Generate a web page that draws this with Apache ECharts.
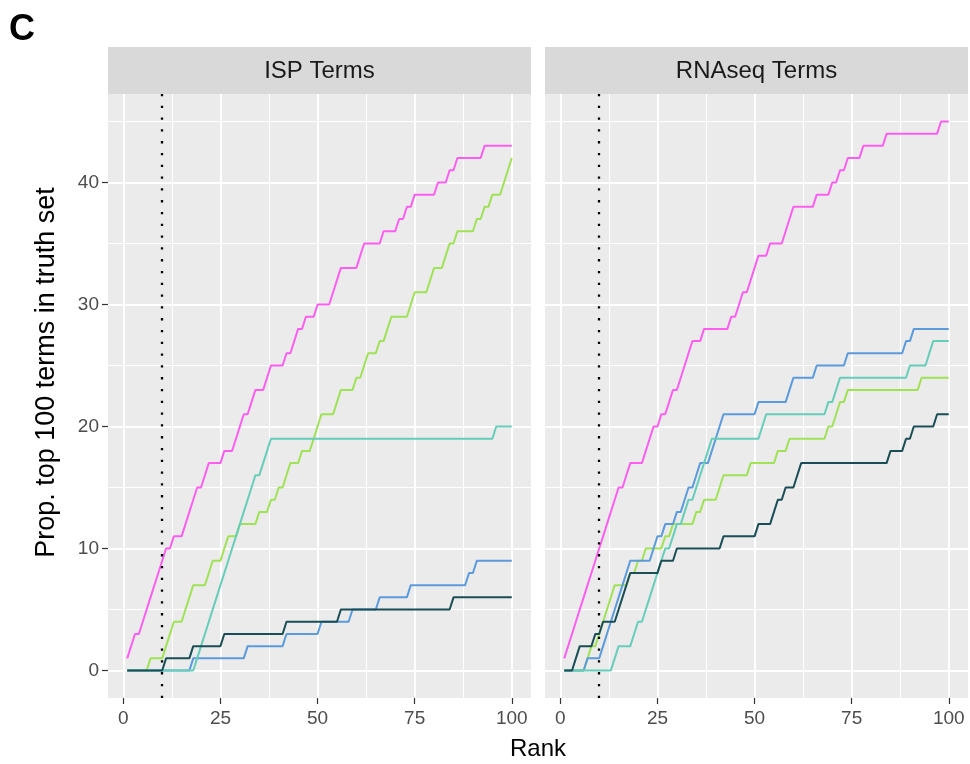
<!DOCTYPE html>
<html>
<head>
<meta charset="utf-8">
<script src="https://cdn.jsdelivr.net/npm/echarts@6/dist/echarts.min.js"></script>
<style>
  html, body { margin: 0; padding: 0; background: #fff; }
  #chart { width: 970px; height: 764px; }
</style>
</head>
<body>
<div id="chart"></div>
<script>
// ---------------- data ----------------
const ranks = [
  1,2,3,4,5,6,7,8,9,10,11,12,13,14,15,16,17,18,19,20,
  21,22,23,24,25,26,27,28,29,30,31,32,33,34,35,36,37,38,39,40,
  41,42,43,44,45,46,47,48,49,50,51,52,53,54,55,56,57,58,59,60,
  61,62,63,64,65,66,67,68,69,70,71,72,73,74,75,76,77,78,79,80,
  81,82,83,84,85,86,87,88,89,90,91,92,93,94,95,96,97,98,99,100
];
const panelTitles = ['ISP Terms', 'RNAseq Terms'];
const xTicks = [0, 25, 50, 75, 100];
const xMinorTicks = [12.5, 37.5, 62.5, 87.5];
const yTicks = [0, 10, 20, 30, 40];
const yMinorTicks = [5, 15, 25, 35, 45];
const CUTOFF = 10;
const yTitle = 'Prop. top 100 terms in truth set';
const xTitle = 'Rank';
const panelLabel = 'C';

// ISP Terms panel
const ispPink = [
  1,2,3,3,4,5,6,7,8,9,
  10,10,11,11,11,12,13,14,15,15,
  16,17,17,17,17,18,18,18,19,20,
  21,21,22,23,23,23,24,25,25,25,
  25,26,26,27,28,28,29,29,29,30,
  30,30,30,31,32,33,33,33,33,33,
  34,35,35,35,35,35,36,36,36,36,
  37,37,38,38,39,39,39,39,39,39,
  40,40,40,41,41,42,42,42,42,42,
  42,42,43,43,43,43,43,43,43,43
];
const ispGreen = [
  0,0,0,0,0,0,1,1,1,1,
  2,3,4,4,4,5,6,7,7,7,
  7,8,9,9,9,10,11,11,11,12,
  12,12,12,12,13,13,13,14,14,15,
  15,16,17,17,17,18,18,18,19,20,
  21,21,21,21,22,23,23,23,23,24,
  24,25,26,26,26,27,27,28,29,29,
  29,29,29,30,31,31,31,31,32,33,
  33,33,34,35,35,36,36,36,36,36,
  37,37,38,38,39,39,39,40,41,42
];
const ispBlue = [
  0,0,0,0,0,0,0,0,0,0,
  0,0,0,0,0,0,0,1,1,1,
  1,1,1,1,1,1,1,1,1,1,
  1,2,2,2,2,2,2,2,2,2,
  2,3,3,3,3,3,3,3,3,3,
  4,4,4,4,4,4,4,4,5,5,
  5,5,5,5,5,6,6,6,6,6,
  6,6,6,7,7,7,7,7,7,7,
  7,7,7,7,7,7,7,7,8,8,
  9,9,9,9,9,9,9,9,9,9
];
const ispTeal = [
  0,0,0,0,0,0,0,0,0,0,
  0,0,0,0,0,0,0,0,1,2,
  3,4,5,6,7,8,9,10,11,12,
  13,14,15,16,16,17,18,19,19,19,
  19,19,19,19,19,19,19,19,19,19,
  19,19,19,19,19,19,19,19,19,19,
  19,19,19,19,19,19,19,19,19,19,
  19,19,19,19,19,19,19,19,19,19,
  19,19,19,19,19,19,19,19,19,19,
  19,19,19,19,19,20,20,20,20,20
];
const ispDark = [
  0,0,0,0,0,0,0,0,0,0,
  1,1,1,1,1,1,1,2,2,2,
  2,2,2,2,2,3,3,3,3,3,
  3,3,3,3,3,3,3,3,3,3,
  3,4,4,4,4,4,4,4,4,4,
  4,4,4,4,4,5,5,5,5,5,
  5,5,5,5,5,5,5,5,5,5,
  5,5,5,5,5,5,5,5,5,5,
  5,5,5,5,6,6,6,6,6,6,
  6,6,6,6,6,6,6,6,6,6
];

// RNAseq Terms panel
const rnaPink = [
  1,2,3,4,5,6,7,8,9,10,
  11,12,13,14,15,15,16,17,17,17,
  17,18,19,20,20,21,21,22,23,23,
  24,25,26,27,27,27,28,28,28,28,
  28,28,28,29,29,30,31,31,32,33,
  34,34,34,35,35,35,35,36,37,38,
  38,38,38,38,38,39,39,39,39,40,
  40,41,41,42,42,42,42,43,43,43,
  43,43,43,44,44,44,44,44,44,44,
  44,44,44,44,44,44,44,45,45,45
];
const rnaGreen = [
  0,0,0,0,0,0,1,2,2,3,
  4,5,6,7,7,7,7,8,8,9,
  9,10,10,10,10,10,11,11,12,12,
  12,12,12,12,13,13,14,14,14,14,
  15,16,16,16,16,16,16,16,17,17,
  17,17,17,17,17,18,18,18,19,19,
  19,19,19,19,19,19,19,19,20,20,
  21,22,22,23,23,23,23,23,23,23,
  23,23,23,23,23,23,23,23,23,23,
  23,23,24,24,24,24,24,24,24,24
];
const rnaBlue = [
  0,0,0,0,0,0,1,1,1,1,
  2,3,4,5,6,7,8,9,9,9,
  9,9,9,10,11,11,12,12,12,13,
  13,14,15,15,16,17,17,17,18,19,
  20,21,21,21,21,21,21,21,21,21,
  22,22,22,22,22,22,22,22,23,24,
  24,24,24,24,24,25,25,25,25,25,
  25,25,25,26,26,26,26,26,26,26,
  26,26,26,26,26,26,26,26,27,27,
  28,28,28,28,28,28,28,28,28,28
];
const rnaTeal = [
  0,0,0,0,0,0,0,0,0,0,
  0,0,0,1,2,2,2,2,3,4,
  4,5,6,7,8,9,10,10,11,12,
  12,13,14,14,15,16,17,18,19,19,
  19,19,19,19,19,19,19,19,19,19,
  19,20,21,21,21,21,21,21,21,21,
  21,21,21,21,21,21,21,21,22,22,
  23,24,24,24,24,24,24,24,24,24,
  24,24,24,24,24,24,24,24,24,25,
  25,25,25,25,26,27,27,27,27,27
];
const rnaDark = [
  0,0,0,1,2,2,2,2,3,3,
  4,4,4,4,5,6,7,8,8,8,
  8,8,8,8,8,9,9,9,9,10,
  10,10,10,10,10,10,10,10,10,10,
  10,11,11,11,11,11,11,11,11,11,
  12,12,12,12,13,14,14,15,15,15,
  16,17,17,17,17,17,17,17,17,17,
  17,17,17,17,17,17,17,17,17,17,
  17,17,17,17,18,18,18,18,19,19,
  20,20,20,20,20,20,21,21,21,21
];

const seriesColors = {
  pink: '#FC5FEF',
  green: '#A0E257',
  blue: '#5B9BDC',
  teal: '#66CDB9',
  dark: '#1A4D56'
};
const panels = [
  [['pink', ispPink], ['green', ispGreen], ['blue', ispBlue], ['teal', ispTeal], ['dark', ispDark]],
  [['pink', rnaPink], ['green', rnaGreen], ['blue', rnaBlue], ['teal', rnaTeal], ['dark', rnaDark]]
];

// ---------------- layout ----------------
const FONT = '"Liberation Sans", Arial, Helvetica, sans-serif';
const GRID_LEFT = [108, 545];
const STRIP_TOP = 47;
const GRID_TOP = 94;
const GRID_W = 423;
const GRID_H = 604;
const X_MIN = -3.95, X_MAX = 104.95;
const Y_MIN = -2.25, Y_MAX = 47.25;

const grids = [], xAxes = [], yAxes = [], series = [], graphics = [];

panels.forEach((panel, p) => {
  grids.push({
    left: GRID_LEFT[p], top: GRID_TOP, width: GRID_W, height: GRID_H,
    show: true, backgroundColor: '#EBEBEB', borderWidth: 0
  });
  // major x axis
  xAxes.push({
    gridIndex: p, type: 'value', min: X_MIN, max: X_MAX, position: 'bottom',
    axisLine: { show: false, onZero: false },
    axisTick: { show: true, length: 6, inside: false, customValues: xTicks,
      lineStyle: { color: '#333333', width: 1.2 } },
    axisLabel: { show: true, customValues: xTicks, margin: 11, color: '#4D4D4D',
      fontSize: 19, fontFamily: FONT },
    splitLine: { show: true, lineStyle: { color: '#FFFFFF', width: 2 } }
  });
  // minor x axis (grid lines only)
  xAxes.push({
    gridIndex: p, type: 'value', min: X_MIN, max: X_MAX, position: 'top',
    axisLine: { show: false, onZero: false },
    axisTick: { show: false, customValues: xMinorTicks },
    axisLabel: { show: false, customValues: xMinorTicks },
    splitLine: { show: true, lineStyle: { color: '#FFFFFF', width: 1 } }
  });
  // major y axis
  yAxes.push({
    gridIndex: p, type: 'value', min: Y_MIN, max: Y_MAX, position: 'left',
    axisLine: { show: false, onZero: false },
    axisTick: { show: p === 0, length: 6, inside: false, customValues: yTicks,
      lineStyle: { color: '#333333', width: 1.2 } },
    axisLabel: { show: p === 0, customValues: yTicks, margin: 9, color: '#4D4D4D',
      fontSize: 19, fontFamily: FONT },
    splitLine: { show: true, lineStyle: { color: '#FFFFFF', width: 2 } }
  });
  // minor y axis
  yAxes.push({
    gridIndex: p, type: 'value', min: Y_MIN, max: Y_MAX, position: 'right',
    axisLine: { show: false, onZero: false },
    axisTick: { show: false, customValues: yMinorTicks },
    axisLabel: { show: false, customValues: yMinorTicks },
    splitLine: { show: true, lineStyle: { color: '#FFFFFF', width: 1 } }
  });

  panel.forEach(([key, vals], k) => {
    const s = {
      type: 'line',
      xAxisIndex: 2 * p, yAxisIndex: 2 * p,
      data: ranks.map((r, i) => [r, vals[i]]),
      showSymbol: false, symbol: 'none',
      lineStyle: { color: seriesColors[key], width: 2 },
      itemStyle: { color: seriesColors[key] },
      z: 3 + k,
      silent: true
    };
    if (k === 0) {
      s.markLine = {
        silent: true, symbol: ['none', 'none'], animation: false,
        label: { show: false },
        lineStyle: { color: '#000000', width: 2.3, type: [2.3, 9.5] },
        data: [{ xAxis: CUTOFF }]
      };
    }
    series.push(s);
  });

  // facet strip
  graphics.push({
    type: 'rect', z: 10,
    shape: { x: GRID_LEFT[p], y: STRIP_TOP, width: GRID_W, height: GRID_TOP - STRIP_TOP },
    style: { fill: '#D9D9D9' }
  });
  graphics.push({
    type: 'text', z: 11,
    x: GRID_LEFT[p] + GRID_W / 2, y: (STRIP_TOP + GRID_TOP) / 2 + 1,
    style: { text: panelTitles[p], align: 'center', verticalAlign: 'middle',
      font: '24px ' + FONT, fill: '#1A1A1A' }
  });
});

// axis titles, centred like ggplot (y title over panels + strips)
graphics.push({
  type: 'text', z: 11, x: 538, y: 749,
  style: { text: xTitle, align: 'center', verticalAlign: 'middle',
    font: '24px ' + FONT, fill: '#000000' }
});
graphics.push({
  type: 'text', z: 11, x: 47, y: (STRIP_TOP + GRID_TOP + GRID_H) / 2, rotation: Math.PI / 2,
  style: { text: yTitle, align: 'center', verticalAlign: 'middle',
    font: '27px ' + FONT, fill: '#000000' }
});
graphics.push({
  type: 'text', z: 11, x: 9, y: 30,
  style: { text: panelLabel, align: 'left', verticalAlign: 'middle',
    font: 'bold 36px ' + FONT, fill: '#000000' }
});

const option = {
  animation: false,
  backgroundColor: '#FFFFFF',
  grid: grids,
  xAxis: xAxes,
  yAxis: yAxes,
  series: series,
  graphic: graphics
};

const chart = echarts.init(document.getElementById('chart'), null, { renderer: 'canvas' });
chart.setOption(option);
</script>
</body>
</html>
